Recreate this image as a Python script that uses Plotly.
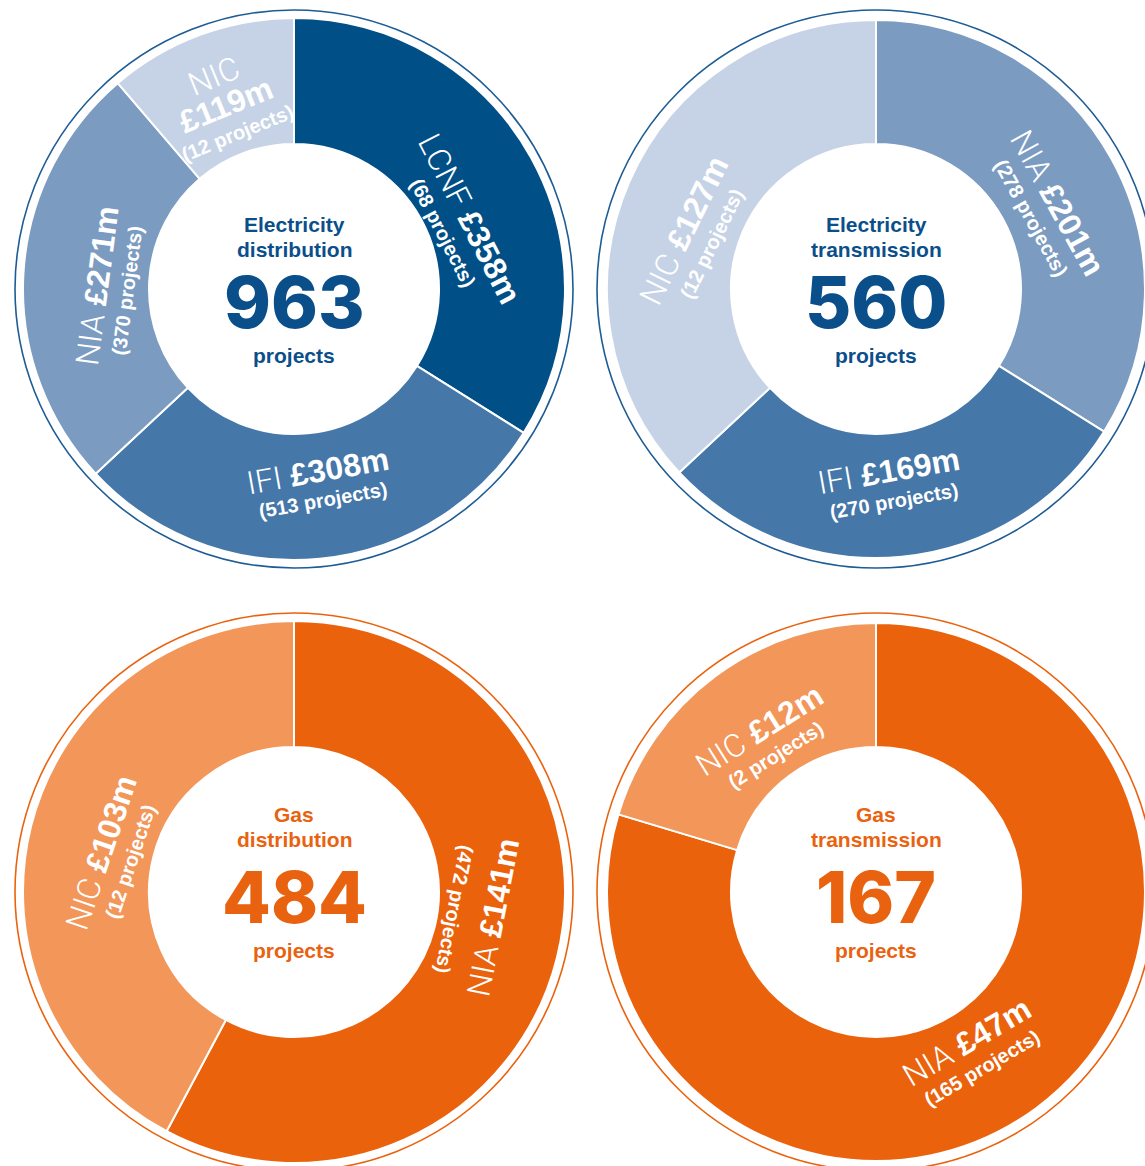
import math
import plotly.graph_objects as go

# Electricity distribution
ed_schemes = ["LCNF", "IFI", "NIA", "NIC"]
ed_spend_m = [358, 308, 271, 119]
ed_projects = [68, 513, 370, 12]
ed_total_projects = 963

# Electricity transmission
et_schemes = ["NIA", "IFI", "NIC"]
et_spend_m = [201, 169, 127]
et_projects = [278, 270, 12]
et_slice_drawn = [122, 105, 133]  # slice sizes as drawn in the source (degrees, not proportional to spend)
et_total_projects = 560

# Gas distribution
gd_schemes = ["NIA", "NIC"]
gd_spend_m = [141, 103]
gd_projects = [472, 12]
gd_total_projects = 484

# Gas transmission
gt_schemes = ["NIA", "NIC"]
gt_spend_m = [47, 12]
gt_projects = [165, 2]
gt_total_projects = 167

# ---------------- style ----------------
W, H = 1145, 1166
R_OUT, R_IN, R_RING = 271, 145, 279

ELEC_COLORS = {"LCNF": "#004f87", "IFI": "#4577a9", "NIA": "#7b9bc1", "NIC": "#c6d3e6"}
GAS_COLORS = {"NIA": "#eb620c", "NIC": "#f29659"}
ELEC_TEXT, GAS_TEXT = "#0b4f8a", "#e9620f"
ELEC_RING, GAS_RING = "#1d5c95", "#eb620c"

BOLD_FONT = "Liberation Sans, Arial, Helvetica, sans-serif"
LIGHT_FONT = "Roboto, Lato, sans-serif"
NUM_FONT = "Inter, DejaVu Sans, Liberation Sans, sans-serif"

charts = [
    dict(name=["Electricity", "distribution"], total=ed_total_projects, schemes=ed_schemes,
         spend=ed_spend_m, projects=ed_projects, slices=ed_spend_m, center=(294, 289),
         colors=ELEC_COLORS, text=ELEC_TEXT, ring=ELEC_RING, shift=(0, 0),
         style=[(7.6, 177, 1.7, "two"), (-2.2, 196, -4.6, "two"),
                (-2.9, 184, 4.3, "two"), (0.0, 196, -2.0, "three")]),
    dict(name=["Electricity", "transmission"], total=et_total_projects, schemes=et_schemes,
         spend=et_spend_m, projects=et_projects, slices=et_slice_drawn, center=(878, 289),
         colors=ELEC_COLORS, text=ELEC_TEXT, ring=ELEC_RING, shift=(0, 0),
         style=[(4.0, 188, 0.0, "two"), (1.1, 195, -4.5, "two"), (-7.1, 188, 2.6, "two")]),
    dict(name=["Gas", "distribution"], total=gd_total_projects, schemes=gd_schemes,
         spend=gd_spend_m, projects=gd_projects, slices=gd_spend_m, center=(294, 892),
         colors=GAS_COLORS, text=GAS_TEXT, ring=GAS_RING, shift=(-13, -8),
         style=[(-7.3, 181, -3.0, "mirror"), (-2.8, 184, 4.6, "two")]),
    dict(name=["Gas", "transmission"], total=gt_total_projects, schemes=gt_schemes,
         spend=gt_spend_m, projects=gt_projects, slices=gt_spend_m, center=(878, 892),
         colors=GAS_COLORS, text=GAS_TEXT, ring=GAS_RING, shift=(-13, -8),
         style=[(5.5, 188, 6.1, "two"), (0.7, 187, 4.6, "two")]),
]


def norm(a):
    return ((a + 180.0) % 360.0) - 180.0


fig = go.Figure()
annotations = []
shapes = []

for c in charts:
    cx, cy = c["center"]
    x0 = max(0.0, (cx - R_OUT) / W)
    x1 = min(1.0, (cx + R_OUT) / W)
    y0 = max(0.0, 1 - (cy + R_OUT) / H)
    y1 = min(1.0, 1 - (cy - R_OUT) / H)
    acx = (x0 + x1) / 2 * W
    acy = (1 - (y0 + y1) / 2) * H
    aR = min((x1 - x0) * W, (y1 - y0) * H) / 2

    fig.add_trace(go.Pie(
        values=c["slices"], labels=c["schemes"], sort=False, direction="clockwise",
        rotation=0, hole=R_IN / aR,
        marker=dict(colors=[c["colors"][s] for s in c["schemes"]],
                    line=dict(color="white", width=2)),
        textinfo="none", hoverinfo="label", showlegend=False,
        domain=dict(x=[x0, x1], y=[y0, y1]),
    ))

    # thin outer ring
    shapes.append(dict(type="circle", xref="paper", yref="paper",
                       x0=(acx - R_RING) / W, x1=(acx + R_RING) / W,
                       y0=1 - (acy + R_RING) / H, y1=1 - (acy - R_RING) / H,
                       line=dict(color=c["ring"], width=1.6), fillcolor="rgba(0,0,0,0)",
                       layer="below"))

    # centre text
    st, sb = c["shift"]
    centre_lines = [
        (f"<b>{c['name'][0]}</b>", BOLD_FONT, 21, -64.3 + st),
        (f"<b>{c['name'][1]}</b>", BOLD_FONT, 21, -39.6 + st),
        (f'<span style="font-weight:800">{c["total"]}</span>', NUM_FONT, 71, 13.0 + sb),
        ("<b>projects</b>", BOLD_FONT, 21, 66.5 + sb),
    ]
    for txt, fam, size, off in centre_lines:
        annotations.append(dict(
            text=txt, x=acx / W, y=1 - (acy + off) / H,
            xref="paper", yref="paper", xanchor="center", yanchor="middle",
            showarrow=False, font=dict(family=fam, size=size, color=c["text"])))

    # segment labels
    tot = sum(c["slices"])
    cum = 0.0
    for i, s in enumerate(c["schemes"]):
        v = c["slices"][i]
        mid = (cum + v / 2) / tot * 360.0
        cum += v
        dth, r, dal, kind = c["style"][i]
        th = math.radians(mid + dth)
        bx = acx + r * math.sin(th)
        by = acy - r * math.cos(th)
        a0 = norm(mid)
        if kind != "mirror" and (a0 > 90 or a0 < -90):
            a0 = a0 - 180 if a0 > 0 else a0 + 180
        alpha = a0 + dal
        dvx, dvy = -math.sin(math.radians(alpha)), math.cos(math.radians(alpha))

        name_txt = f'<span style="font-family:{LIGHT_FONT};font-weight:300">{s}</span>'
        amt = f"<b>£{c['spend'][i]}m</b>"
        proj = f"<b>({c['projects'][i]} projects)</b>"
        if kind == "three":
            lines = [(name_txt, 32, -31, 0), (amt, 32, 0, 0), (proj, 20, 30, 0)]
        elif kind == "mirror":
            lines = [(name_txt + " " + amt, 32, -20, 180), (proj, 20, 20, 0)]
        else:
            lines = [(name_txt + " " + amt, 32, -12.5, 0), (proj, 20, 17.5, 0)]
        for txt, size, off, extra in lines:
            lx = bx + off * dvx
            ly = by + off * dvy
            annotations.append(dict(
                text=txt, x=lx / W, y=1 - ly / H, xref="paper", yref="paper",
                xanchor="center", yanchor="middle", showarrow=False,
                textangle=norm(alpha + extra),
                font=dict(family=BOLD_FONT, size=size, color="white")))

fig.update_layout(
    width=W, height=H, margin=dict(l=0, r=0, t=0, b=0, pad=0),
    paper_bgcolor="white", plot_bgcolor="white", showlegend=False,
    annotations=annotations, shapes=shapes,
)

fig.write_html("out.html", config={"displayModeBar": False},
               post_script="document.body.style.margin='0';document.body.style.overflow='hidden';")
